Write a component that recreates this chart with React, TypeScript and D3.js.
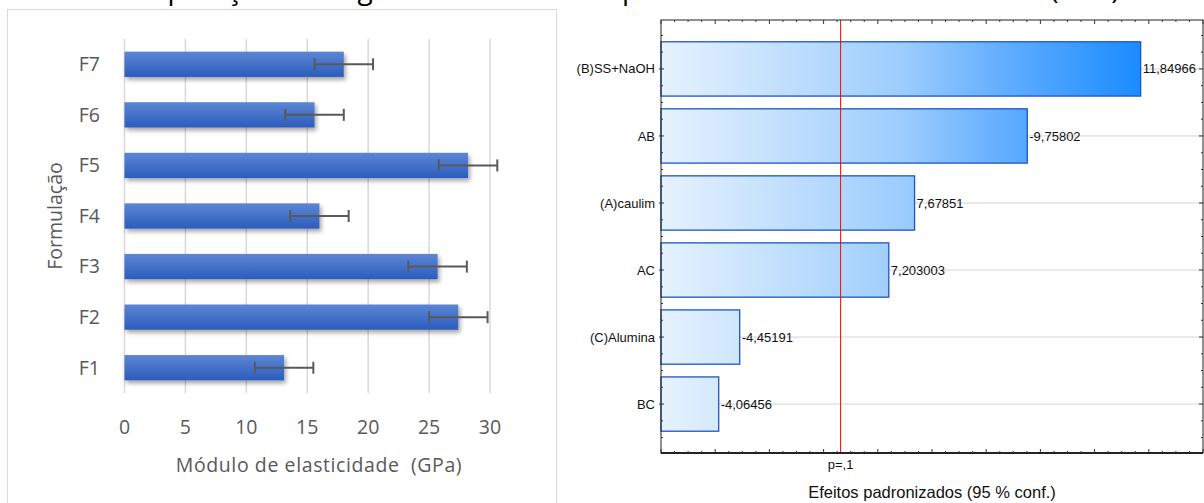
import React from 'react';
import * as d3 from 'd3';

// left chart: módulo de elasticidade por formulação
const formulacoes = ['F1', 'F2', 'F3', 'F4', 'F5', 'F6', 'F7'];
const modulo = [13.1, 27.4, 25.7, 16.0, 28.2, 15.6, 18.0];
const erro = [2.4, 2.4, 2.4, 2.4, 2.4, 2.4, 2.4];
const xTicksLeft = [0, 5, 10, 15, 20, 25, 30];

// right chart: pareto dos efeitos padronizados
const efeitos = ['(B)SS+NaOH', 'AB', '(A)caulim', 'AC', '(C)Alumina', 'BC'];
const efeitoValores = [11.84966, -9.75802, 7.67851, 7.203003, -4.45191, -4.06456];
const pLimite = 6.314;

const titulo = 'Comparação entre gráficos de barras e pareto dos efeitos normalizados (GPa)';

const App = () => {
  // ---- left chart scales
  const xL = d3.scaleLinear().domain([0, 30]).range([124.5, 490]);
  const yL = d3.scaleBand<string>()
    .domain([...formulacoes].reverse())
    .range([39, 393])
    .paddingInner(0.5)
    .paddingOuter(0.25);

  // ---- right chart scales
  const left = 661, right = 1203, top = 20, bottom = 453;
  const xR = d3.scaleLinear().domain([3, 13]).range([left, right]);
  const yR = d3.scaleBand<string>()
    .domain(efeitos)
    .range([top, bottom])
    .paddingInner(0.19)
    .paddingOuter(0.325);

  const stepR = yR.step();
  const firstCenter = (yR(efeitos[0]) as number) + yR.bandwidth() / 2;
  // quarter-step ticks along the vertical axes
  const vTicks: { y: number; major: boolean }[] = [];
  for (let k = -12; k <= 40; k++) {
    const y = firstCenter + (k * stepR) / 4;
    if (y > top + 1 && y < bottom - 1) vTicks.push({ y, major: k % 4 === 0 });
  }
  const hTicks = d3.range(3, 13.001, 0.25).map(v => ({ x: xR(v), major: Math.abs(v - Math.round(v)) < 1e-6 }));

  const fmt = (v: number) => String(v).replace('.', ',');
  const leftFont = '"Open Sans", "Noto Sans", sans-serif';
  const rightFont = '"Liberation Sans", Arial, sans-serif';
  const fsL = 19.5;

  return (
    <svg width={1204} height={503} style={{ position: 'absolute', left: 0, top: 0, background: '#fff' }}>
      <defs>
        <linearGradient id="barL" x1="0" y1="0" x2="0" y2="1">
          <stop offset="0" stopColor="#5d86d4" />
          <stop offset="1" stopColor="#2c5cbd" />
        </linearGradient>
        <filter id="shadow" x="-5%" y="-30%" width="115%" height="180%">
          <feDropShadow dx="2" dy="3" stdDeviation="2" floodColor="#000" floodOpacity="0.35" />
        </filter>
        <linearGradient id="barR" gradientUnits="userSpaceOnUse" x1={xR(3)} y1="0" x2={xR(11.84966)} y2="0">
          <stop offset="0" stopColor="#e6f2fe" />
          <stop offset="0.5" stopColor="#9dcdfd" />
          <stop offset="0.75" stopColor="#58a9ff" />
          <stop offset="1" stopColor="#1a8bff" />
        </linearGradient>
      </defs>

      {/* title, mostly above the visible area */}
      <text x={107} y={-1} fontFamily={leftFont} fontSize={28} fill="#000">{titulo}</text>

      {/* ===== left chart ===== */}
      <rect x={7.5} y={9.5} width={549} height={600} fill="#fff" stroke="#d9d9d9" strokeWidth={1} />
      {xTicksLeft.map(t => (
        <line key={t} x1={xL(t)} x2={xL(t)} y1={39} y2={393} stroke="#d9d9d9" strokeWidth={1.5} />
      ))}
      {formulacoes.map((f, i) => {
        const y = yL(f) as number;
        const cy = y + yL.bandwidth() / 2;
        return (
          <g key={f}>
            <rect x={xL(0)} y={y} width={xL(modulo[i]) - xL(0)} height={yL.bandwidth()} fill="url(#barL)" filter="url(#shadow)" />
            <line x1={xL(modulo[i] - erro[i])} x2={xL(modulo[i] + erro[i])} y1={cy} y2={cy} stroke="#595959" strokeWidth={2} />
            <line x1={xL(modulo[i] - erro[i])} x2={xL(modulo[i] - erro[i])} y1={cy - 6} y2={cy + 6} stroke="#595959" strokeWidth={2} />
            <line x1={xL(modulo[i] + erro[i])} x2={xL(modulo[i] + erro[i])} y1={cy - 6} y2={cy + 6} stroke="#595959" strokeWidth={2} />
            <text x={100} y={cy} dy="0.35em" textAnchor="end" fontFamily={leftFont} fontSize={fsL} fill="#595959">{f}</text>
          </g>
        );
      })}
      {xTicksLeft.map(t => (
        <text key={t} x={xL(t)} y={434} textAnchor="middle" fontFamily={leftFont} fontSize={fsL} fill="#595959">{t}</text>
      ))}
      <text x={319} y={472} textAnchor="middle" fontFamily={leftFont} fontSize={fsL} letterSpacing={0.6} fill="#595959" style={{ whiteSpace: 'pre' }}>
        {'Módulo de elasticidade  (GPa)'}
      </text>
      <text transform="translate(62,216) rotate(-90)" textAnchor="middle" fontFamily={leftFont} fontSize={fsL} fill="#595959">Formulação</text>

      {/* ===== right chart ===== */}
      {efeitos.map(e => {
        const cy = (yR(e) as number) + yR.bandwidth() / 2;
        return <line key={e} x1={left} x2={right} y1={cy} y2={cy} stroke="#d4d4d4" strokeWidth={1} />;
      })}
      {efeitos.map((e, i) => {
        const y = yR(e) as number;
        const v = Math.abs(efeitoValores[i]);
        const cy = y + yR.bandwidth() / 2;
        return (
          <g key={e}>
            <rect x={left} y={y} width={xR(v) - left} height={yR.bandwidth()} fill="url(#barR)" stroke="#1d55c4" strokeWidth={1.3} />
            <text x={xR(v) + 2} y={cy} dy="0.35em" fontFamily={rightFont} fontSize={13} fill="#111">{fmt(efeitoValores[i])}</text>
            <text x={655} y={cy} dy="0.35em" textAnchor="end" fontFamily={rightFont} fontSize={13} fill="#111">{e}</text>
          </g>
        );
      })}
      <line x1={xR(pLimite)} x2={xR(pLimite)} y1={top} y2={bottom} stroke="#ff0000" strokeWidth={1} />
      {/* frame and ticks */}
      <rect x={left} y={top} width={right - left} height={bottom - top} fill="none" stroke="#222" strokeWidth={1} />
      <line x1={left} x2={right} y1={bottom} y2={bottom} stroke="#000" strokeWidth={1.5} />
      {hTicks.map((t, i) => (
        <g key={i}>
          <line x1={t.x} x2={t.x} y1={top} y2={top + (t.major ? 4 : 2)} stroke="#333" />
          <line x1={t.x} x2={t.x} y1={bottom} y2={bottom - (t.major ? 4 : 2)} stroke="#333" />
        </g>
      ))}
      {vTicks.map((t, i) => (
        <g key={i}>
          <line x1={left - (t.major ? 2 : 0)} x2={left + (t.major ? 3 : 2)} y1={t.y} y2={t.y} stroke="#333" />
          <line x1={right} x2={right - (t.major ? 4 : 2)} y1={t.y} y2={t.y} stroke="#333" />
        </g>
      ))}
      <text x={xR(pLimite)} y={469} textAnchor="middle" fontFamily={rightFont} fontSize={13} fill="#111">p=,1</text>
      <text x={932} y={498} textAnchor="middle" fontFamily={rightFont} fontSize={16.5} fill="#111">Efeitos padronizados (95 % conf.)</text>
    </svg>
  );
};

export default App;
